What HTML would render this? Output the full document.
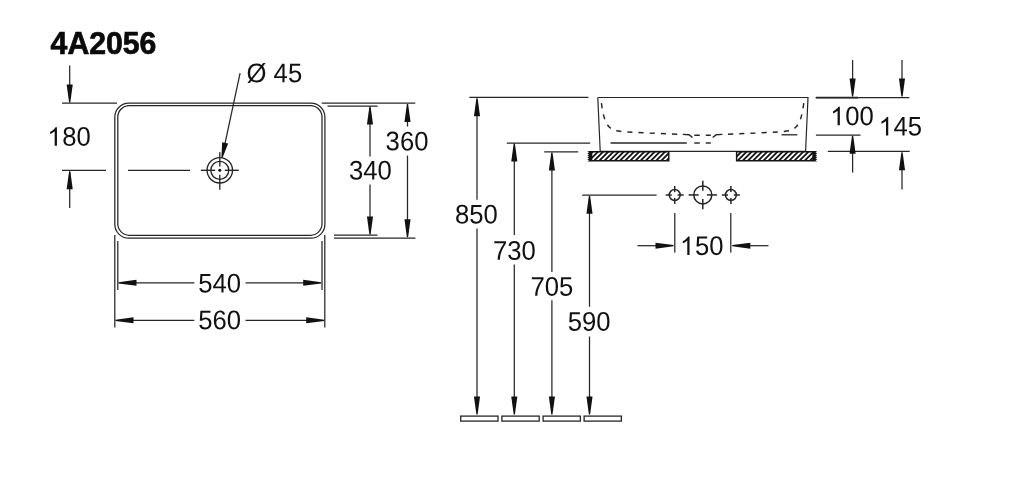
<!DOCTYPE html>
<html><head><meta charset="utf-8"><style>
html,body{margin:0;padding:0;background:#fff;width:1024px;height:500px;overflow:hidden}
svg{display:block;font-family:"Liberation Sans",sans-serif}
</style></head><body>
<svg width="1024" height="500" viewBox="0 0 1024 500">
<rect width="1024" height="500" fill="#fff"/>
<g fill="#111" style="will-change:transform">
<text x="50.6" y="53.6" font-size="31.2" text-anchor="start" font-weight="bold" textLength="105.8" lengthAdjust="spacingAndGlyphs" fill="#0a0a0a" stroke="#0a0a0a" stroke-width="0.7">4A2056</text>
<line x1="69.7" y1="65.5" x2="69.7" y2="90" stroke="#262626" stroke-width="1.25" />
<path d="M69.10,102.50 L66.65,84.50 L72.75,84.50 L70.30,102.50 Z" fill="#111"/>
<line x1="62" y1="103" x2="117" y2="103" stroke="#262626" stroke-width="1.25" />
<path d="M713,0 L533,0 L533,1102 Q468,1042 362,983 Q256,923 172,894 L172,1060 Q323,1129 436,1226 Q549,1323 596,1409 L713,1409 Z" transform="translate(48.00,145.80) scale(0.01254,-0.01318)"/>
<text transform="translate(48.00,145.75) skewY(0.15) scale(0.9514,1)" font-size="27.0" > 80</text>
<line x1="62" y1="170.3" x2="106" y2="170.3" stroke="#262626" stroke-width="1.25" />
<line x1="128" y1="170.3" x2="190" y2="170.3" stroke="#262626" stroke-width="1.25" />
<line x1="69.7" y1="172" x2="69.7" y2="208" stroke="#262626" stroke-width="1.25" />
<path d="M70.30,171.30 L72.75,189.30 L66.65,189.30 L69.10,171.30 Z" fill="#111"/>
<path d="M128.8,103.2 H310.9 A14,14 0 0 1 324.9,117.2 V224.2 A14,14 0 0 1 310.9,238.2 H128.8 A14,14 0 0 1 114.8,224.2 V117.2 A14,14 0 0 1 128.8,103.2 Z" stroke="#262626" stroke-width="1.25" fill="none" />
<path d="M129.3,105.6 H310.5 A11.5,11.5 0 0 1 322.0,117.1 V223.8 A11.5,11.5 0 0 1 310.5,235.3 H129.3 A11.5,11.5 0 0 1 117.8,223.8 V117.1 A11.5,11.5 0 0 1 129.3,105.6 Z" stroke="#262626" stroke-width="1.25" fill="none" />
<circle cx="219.8" cy="170.3" r="12.7" stroke="#262626" stroke-width="1.35" fill="none"/>
<circle cx="219.8" cy="170.3" r="9.0" stroke="#262626" stroke-width="1.35" fill="none"/>
<line x1="200.8" y1="170.3" x2="215.20000000000002" y2="170.3" stroke="#262626" stroke-width="1.35" />
<line x1="224.8" y1="170.3" x2="238.8" y2="170.3" stroke="#262626" stroke-width="1.35" />
<line x1="219.8" y1="152.3" x2="219.8" y2="166.5" stroke="#262626" stroke-width="1.35" />
<line x1="219.8" y1="174.8" x2="219.8" y2="189.8" stroke="#262626" stroke-width="1.35" />
<circle cx="219.8" cy="170.3" r="1.5" fill="#111"/>
<line x1="240.1" y1="73.2" x2="224.9" y2="143.8" stroke="#262626" stroke-width="1.25" />
<path d="M221.41,157.47 L222.16,142.29 L228.13,143.57 L222.59,157.73 Z" fill="#111"/>
<text transform="translate(246.50,82.25) skewY(0.15) scale(0.9514,1)" font-size="27.0" >Ø 45</text>
<line x1="327.5" y1="106" x2="377.6" y2="106" stroke="#262626" stroke-width="1.25" />
<line x1="334" y1="235.2" x2="377.5" y2="235.2" stroke="#262626" stroke-width="1.25" />
<line x1="321.7" y1="103" x2="415.3" y2="103" stroke="#262626" stroke-width="1.25" />
<line x1="334" y1="238" x2="415.5" y2="238" stroke="#262626" stroke-width="1.25" />
<line x1="370" y1="110" x2="370" y2="156.4" stroke="#262626" stroke-width="1.25" />
<line x1="370" y1="184.4" x2="370" y2="230" stroke="#262626" stroke-width="1.25" />
<path d="M370.60,106.50 L373.05,124.50 L366.95,124.50 L369.40,106.50 Z" fill="#111"/>
<path d="M369.40,234.50 L366.95,216.50 L373.05,216.50 L370.60,234.50 Z" fill="#111"/>
<line x1="407.5" y1="108" x2="407.5" y2="126.5" stroke="#262626" stroke-width="1.25" />
<line x1="407.5" y1="155.6" x2="407.5" y2="233" stroke="#262626" stroke-width="1.25" />
<path d="M408.10,104.00 L410.55,122.00 L404.45,122.00 L406.90,104.00 Z" fill="#111"/>
<path d="M406.90,237.30 L404.45,219.30 L410.55,219.30 L408.10,237.30 Z" fill="#111"/>
<text transform="translate(348.90,179.45) skewY(0.15) scale(0.9514,1)" font-size="27.0" >340</text>
<text transform="translate(385.60,150.35) skewY(0.15) scale(0.9514,1)" font-size="27.0" >360</text>
<line x1="114.8" y1="235" x2="114.8" y2="327.5" stroke="#262626" stroke-width="1.25" />
<line x1="117.8" y1="241" x2="117.8" y2="290" stroke="#262626" stroke-width="1.25" />
<line x1="324.8" y1="235" x2="324.8" y2="327.5" stroke="#262626" stroke-width="1.25" />
<line x1="322" y1="241" x2="322" y2="290" stroke="#262626" stroke-width="1.25" />
<line x1="125" y1="282.8" x2="194.3" y2="282.8" stroke="#262626" stroke-width="1.25" />
<line x1="245.5" y1="282.8" x2="315" y2="282.8" stroke="#262626" stroke-width="1.25" />
<path d="M118.50,282.20 L136.50,279.75 L136.50,285.85 L118.50,283.40 Z" fill="#111"/>
<path d="M321.20,283.40 L303.20,285.85 L303.20,279.75 L321.20,282.20 Z" fill="#111"/>
<line x1="122" y1="320.3" x2="194.3" y2="320.3" stroke="#262626" stroke-width="1.25" />
<line x1="245.5" y1="320.3" x2="318" y2="320.3" stroke="#262626" stroke-width="1.25" />
<path d="M115.50,319.70 L133.50,317.25 L133.50,323.35 L115.50,320.90 Z" fill="#111"/>
<path d="M324.20,320.90 L306.20,323.35 L306.20,317.25 L324.20,319.70 Z" fill="#111"/>
<text transform="translate(198.20,292.55) skewY(0.15) scale(0.9514,1)" font-size="27.0" >540</text>
<text transform="translate(198.20,329.15) skewY(0.15) scale(0.9514,1)" font-size="27.0" >560</text>
<line x1="469.4" y1="97.4" x2="588.4" y2="97.4" stroke="#262626" stroke-width="1.25" />
<line x1="477" y1="100" x2="477" y2="199.8" stroke="#262626" stroke-width="1.25" />
<line x1="477" y1="228.6" x2="477" y2="400" stroke="#262626" stroke-width="1.25" />
<path d="M477.60,98.20 L480.05,116.20 L473.95,116.20 L476.40,98.20 Z" fill="#111"/>
<path d="M476.40,414.50 L473.95,396.50 L480.05,396.50 L477.60,414.50 Z" fill="#111"/>
<text transform="translate(454.90,223.55) skewY(0.15) scale(0.9514,1)" font-size="27.0" >850</text>
<line x1="506.8" y1="143" x2="590.2" y2="143" stroke="#262626" stroke-width="1.25" />
<line x1="514.3" y1="150" x2="514.3" y2="235" stroke="#262626" stroke-width="1.25" />
<line x1="514.3" y1="264.6" x2="514.3" y2="400" stroke="#262626" stroke-width="1.25" />
<path d="M514.90,143.60 L517.35,161.60 L511.25,161.60 L513.70,143.60 Z" fill="#111"/>
<path d="M513.70,414.50 L511.25,396.50 L517.35,396.50 L514.90,414.50 Z" fill="#111"/>
<text transform="translate(493.00,259.65) skewY(0.15) scale(0.9514,1)" font-size="27.0" >730</text>
<line x1="544.2" y1="151.8" x2="578.2" y2="151.8" stroke="#262626" stroke-width="1.25" />
<line x1="551.9" y1="160" x2="551.9" y2="271.9" stroke="#262626" stroke-width="1.25" />
<line x1="551.9" y1="300.3" x2="551.9" y2="400" stroke="#262626" stroke-width="1.25" />
<path d="M552.50,152.60 L554.95,170.60 L548.85,170.60 L551.30,152.60 Z" fill="#111"/>
<path d="M551.30,414.50 L548.85,396.50 L554.95,396.50 L552.50,414.50 Z" fill="#111"/>
<text transform="translate(530.50,295.65) skewY(0.15) scale(0.9514,1)" font-size="27.0" >705</text>
<line x1="582.2" y1="195.0" x2="656.6" y2="195.0" stroke="#262626" stroke-width="1.25" />
<line x1="589.5" y1="200" x2="589.5" y2="306.8" stroke="#262626" stroke-width="1.25" />
<line x1="589.5" y1="336.5" x2="589.5" y2="400" stroke="#262626" stroke-width="1.25" />
<path d="M590.10,195.70 L592.55,213.70 L586.45,213.70 L588.90,195.70 Z" fill="#111"/>
<path d="M588.90,414.50 L586.45,396.50 L592.55,396.50 L590.10,414.50 Z" fill="#111"/>
<text transform="translate(567.70,330.75) skewY(0.15) scale(0.9514,1)" font-size="27.0" >590</text>
<rect x="460.7" y="416.1" width="37.3" height="5" stroke="#262626" stroke-width="1.3" fill="#fff"/>
<rect x="501.9" y="416.1" width="37.3" height="5" stroke="#262626" stroke-width="1.3" fill="#fff"/>
<rect x="543.1" y="416.1" width="37.3" height="5" stroke="#262626" stroke-width="1.3" fill="#fff"/>
<rect x="584.1" y="416.1" width="37.3" height="5" stroke="#262626" stroke-width="1.3" fill="#fff"/>
<path d="M597.8,97.5 L808,97.5 L805.6,151 M597.8,97.5 L600.2,151" stroke="#262626" stroke-width="1.2" fill="none" />
<line x1="600" y1="151.3" x2="806" y2="151.3" stroke="#262626" stroke-width="1.2" />
<path d="M601.4,103.2 C603.5,118 606,127 614,130.2 C620,132 640,132.8 677.2,134.2" stroke="#262626" stroke-width="1.45" fill="none" pathLength="93" stroke-dasharray="5 6"/>
<path d="M682.8,134.4 L689,134.7 L692.5,137.5" stroke="#262626" stroke-width="1.45" fill="none" />
<path d="M694.3,135.2 H699.8 M705.8,135.2 H710.8" stroke="#262626" stroke-width="1.45" fill="none" />
<path d="M803.8,103.2 C801.7,118 799.2,127 791.2,130.2 C785.2,132 765.2,132.8 728,134.2" stroke="#262626" stroke-width="1.45" fill="none" pathLength="93" stroke-dasharray="5 6"/>
<path d="M722.4,134.4 L716.2,134.7 L712.7,137.5" stroke="#262626" stroke-width="1.45" fill="none" />
<line x1="610.5" y1="143" x2="686.8" y2="143" stroke="#262626" stroke-width="1.35" />
<line x1="694.3" y1="143" x2="699.8" y2="143" stroke="#262626" stroke-width="1.45" />
<line x1="705.8" y1="143" x2="710.8" y2="143" stroke="#262626" stroke-width="1.45" />
<line x1="815.6" y1="97.5" x2="909.4" y2="97.5" stroke="#262626" stroke-width="1.25" />
<line x1="816" y1="97.6" x2="858" y2="97.6" stroke="#262626" stroke-width="1.6" />
<line x1="815.9" y1="135.1" x2="860.5" y2="135.1" stroke="#262626" stroke-width="1.25" />
<line x1="781.5" y1="134.8" x2="797.3" y2="134.8" stroke="#262626" stroke-width="1.3" />
<line x1="827.8" y1="151.3" x2="909.7" y2="151.3" stroke="#262626" stroke-width="1.25" />
<line x1="852.6" y1="60.1" x2="852.6" y2="85" stroke="#262626" stroke-width="1.25" />
<path d="M852.00,96.50 L849.55,78.50 L855.65,78.50 L853.20,96.50 Z" fill="#111"/>
<line x1="902" y1="60.1" x2="902" y2="85" stroke="#262626" stroke-width="1.25" />
<path d="M901.40,96.50 L898.95,78.50 L905.05,78.50 L902.60,96.50 Z" fill="#111"/>
<line x1="852.6" y1="150" x2="852.6" y2="172.6" stroke="#262626" stroke-width="1.25" />
<path d="M853.20,135.80 L855.65,153.80 L849.55,153.80 L852.00,135.80 Z" fill="#111"/>
<line x1="902" y1="165" x2="902" y2="189.4" stroke="#262626" stroke-width="1.25" />
<path d="M902.60,152.20 L905.05,170.20 L898.95,170.20 L901.40,152.20 Z" fill="#111"/>
<path d="M713,0 L533,0 L533,1102 Q468,1042 362,983 Q256,923 172,894 L172,1060 Q323,1129 436,1226 Q549,1323 596,1409 L713,1409 Z" transform="translate(830.90,125.20) scale(0.01254,-0.01318)"/>
<text transform="translate(830.90,125.15) skewY(0.15) scale(0.9514,1)" font-size="27.0" > 00</text>
<path d="M713,0 L533,0 L533,1102 Q468,1042 362,983 Q256,923 172,894 L172,1060 Q323,1129 436,1226 Q549,1323 596,1409 L713,1409 Z" transform="translate(879.30,135.50) scale(0.01254,-0.01318)"/>
<text transform="translate(879.30,135.45) skewY(0.15) scale(0.9514,1)" font-size="27.0" > 45</text>
<path d="M669.50,151.10 L669.50,161.50 L587.30,161.50 L589.10,160.46 L587.30,159.42 L589.10,158.38 L587.30,157.34 L589.10,156.30 L587.30,155.26 L589.10,154.22 L587.30,153.18 L589.10,152.14 L587.30,151.10 Z" fill="#141414"/>
<clipPath id="c587"><rect x="592.3" y="152.6" width="75.80000000000007" height="7.500000000000005"/></clipPath>
<path d="M575.30,161.5 L585.70,151.1 M580.46,161.5 L590.86,151.1 M585.62,161.5 L596.02,151.1 M590.78,161.5 L601.18,151.1 M595.94,161.5 L606.34,151.1 M601.10,161.5 L611.50,151.1 M606.26,161.5 L616.66,151.1 M611.42,161.5 L621.82,151.1 M616.58,161.5 L626.98,151.1 M621.74,161.5 L632.14,151.1 M626.90,161.5 L637.30,151.1 M632.06,161.5 L642.46,151.1 M637.22,161.5 L647.62,151.1 M642.38,161.5 L652.78,151.1 M647.54,161.5 L657.94,151.1 M652.70,161.5 L663.10,151.1 M657.86,161.5 L668.26,151.1 M663.02,161.5 L673.42,151.1 M668.18,161.5 L678.58,151.1 M673.34,161.5 L683.74,151.1 M678.50,161.5 L688.90,151.1" stroke="#fff" stroke-width="1.85" clip-path="url(#c587)"/>
<path d="M735.90,161.50 L735.90,151.10 L817.30,151.10 L815.50,152.14 L817.30,153.18 L815.50,154.22 L817.30,155.26 L815.50,156.30 L817.30,157.34 L815.50,158.38 L817.30,159.42 L815.50,160.46 L817.30,161.50 Z" fill="#141414"/>
<clipPath id="c735"><rect x="737.3" y="152.6" width="75.0" height="7.500000000000005"/></clipPath>
<path d="M723.90,161.5 L734.30,151.1 M729.06,161.5 L739.46,151.1 M734.22,161.5 L744.62,151.1 M739.38,161.5 L749.78,151.1 M744.54,161.5 L754.94,151.1 M749.70,161.5 L760.10,151.1 M754.86,161.5 L765.26,151.1 M760.02,161.5 L770.42,151.1 M765.18,161.5 L775.58,151.1 M770.34,161.5 L780.74,151.1 M775.50,161.5 L785.90,151.1 M780.66,161.5 L791.06,151.1 M785.82,161.5 L796.22,151.1 M790.98,161.5 L801.38,151.1 M796.14,161.5 L806.54,151.1 M801.30,161.5 L811.70,151.1 M806.46,161.5 L816.86,151.1 M811.62,161.5 L822.02,151.1 M816.78,161.5 L827.18,151.1 M821.94,161.5 L832.34,151.1 M827.10,161.5 L837.50,151.1" stroke="#fff" stroke-width="1.85" clip-path="url(#c735)"/>
<circle cx="674.7" cy="195.0" r="5.45" stroke="#262626" stroke-width="1.5" fill="none"/>
<line x1="665.7" y1="195.0" x2="671.8000000000001" y2="195.0" stroke="#262626" stroke-width="1.5" />
<line x1="677.6" y1="195.0" x2="683.7" y2="195.0" stroke="#262626" stroke-width="1.5" />
<line x1="674.7" y1="186.0" x2="674.7" y2="192.1" stroke="#262626" stroke-width="1.5" />
<line x1="674.7" y1="197.9" x2="674.7" y2="204.0" stroke="#262626" stroke-width="1.5" />
<circle cx="702.8" cy="194.95" r="9.0" stroke="#262626" stroke-width="1.5" fill="none"/>
<line x1="688.5999999999999" y1="194.95" x2="698.6999999999999" y2="194.95" stroke="#262626" stroke-width="1.5" />
<line x1="706.9" y1="194.95" x2="717.0" y2="194.95" stroke="#262626" stroke-width="1.5" />
<line x1="702.8" y1="180.75" x2="702.8" y2="190.85" stroke="#262626" stroke-width="1.5" />
<line x1="702.8" y1="199.04999999999998" x2="702.8" y2="209.14999999999998" stroke="#262626" stroke-width="1.5" />
<circle cx="730.9" cy="195.0" r="5.45" stroke="#262626" stroke-width="1.5" fill="none"/>
<line x1="721.9" y1="195.0" x2="728.0" y2="195.0" stroke="#262626" stroke-width="1.5" />
<line x1="733.8" y1="195.0" x2="739.9" y2="195.0" stroke="#262626" stroke-width="1.5" />
<line x1="730.9" y1="186.0" x2="730.9" y2="192.1" stroke="#262626" stroke-width="1.5" />
<line x1="730.9" y1="197.9" x2="730.9" y2="204.0" stroke="#262626" stroke-width="1.5" />
<line x1="674.8" y1="213" x2="674.8" y2="252.6" stroke="#262626" stroke-width="1.25" />
<line x1="730.8" y1="213" x2="730.8" y2="252.6" stroke="#262626" stroke-width="1.25" />
<line x1="637.5" y1="245.7" x2="660" y2="245.7" stroke="#262626" stroke-width="1.25" />
<path d="M673.50,246.30 L655.50,248.75 L655.50,242.65 L673.50,245.10 Z" fill="#111"/>
<line x1="746" y1="245.7" x2="768.5" y2="245.7" stroke="#262626" stroke-width="1.25" />
<path d="M732.30,245.10 L750.30,242.65 L750.30,248.75 L732.30,246.30 Z" fill="#111"/>
<path d="M713,0 L533,0 L533,1102 Q468,1042 362,983 Q256,923 172,894 L172,1060 Q323,1129 436,1226 Q549,1323 596,1409 L713,1409 Z" transform="translate(680.60,255.10) scale(0.01254,-0.01318)"/>
<text transform="translate(680.60,255.05) skewY(0.15) scale(0.9514,1)" font-size="27.0" > 50</text>
</g>
</svg>
</body></html>
